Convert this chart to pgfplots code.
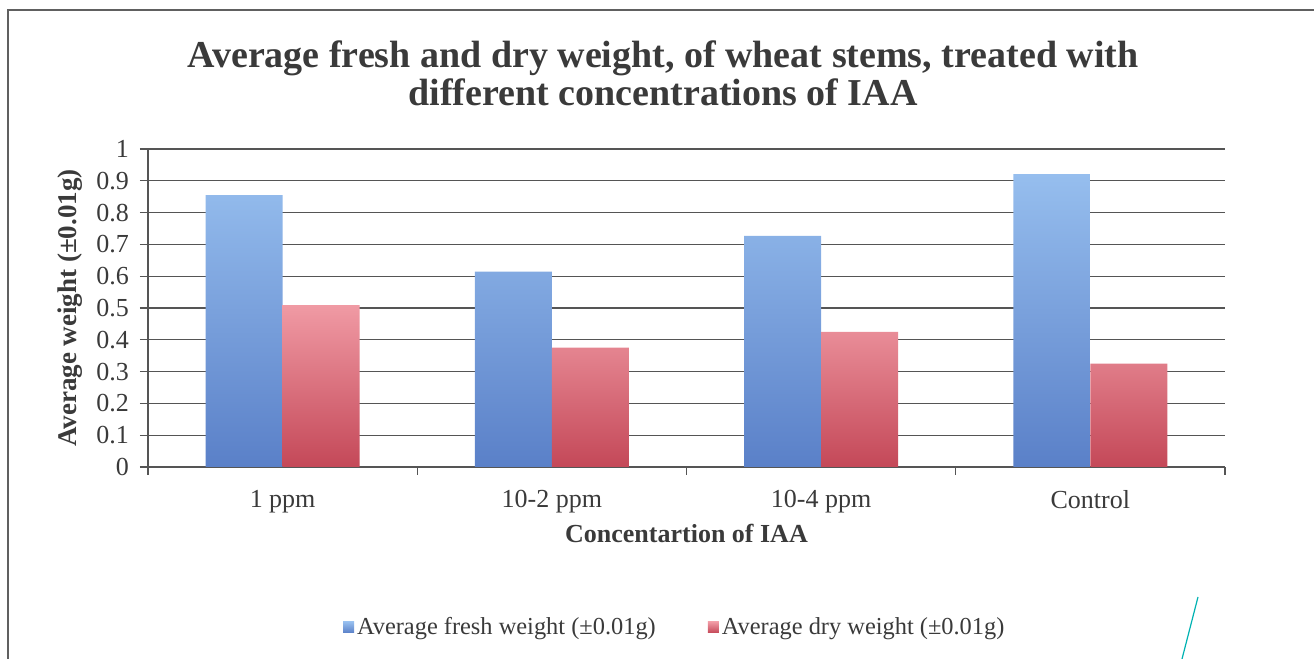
\documentclass[border=0pt]{standalone}
\usepackage{fontspec}
\setmainfont{Liberation Serif}
\usepackage{pgfplots}
\pgfplotsset{compat=1.18}
\definecolor{gridc}{HTML}{555555}
\definecolor{txt}{HTML}{3A3A3A}
\definecolor{freshtop}{HTML}{96BEEE}
\definecolor{freshbot}{HTML}{5A80C8}
\definecolor{drytop}{HTML}{F09AA4}
\definecolor{drybot}{HTML}{C44858}
\begin{document}
\begin{tikzpicture}[x=1pt,y=1pt]
\path[use as bounding box] (0,0) rectangle (657,329.5);
\draw[gray!75!black, line width=0.9pt] (4,0) -- (4,324.5) -- (657,324.5);
\draw[teal!60!cyan, line width=0.6pt] (599,31) -- (591,0);
\node[font=\bfseries\fontsize{19}{19}\selectfont, text=txt, align=center] at (331.5,293)
  {Average fresh and dry weight, of wheat stems, treated with\\different concentrations of IAA};
\begin{axis}[
  at={(74pt,96pt)}, anchor=south west,
  scale only axis, width=538.5pt, height=159pt,
  ymin=0, ymax=1,
  ytick={0,0.1,0.2,0.3,0.4,0.5,0.6,0.7,0.8,0.9,1},
  yticklabels={0,0.1,0.2,0.3,0.4,0.5,0.6,0.7,0.8,0.9,1},
  xmin=-0.5, xmax=3.5,
  xtick={0,1,2,3},
  xticklabels={1 ppm,10-2 ppm,10-4 ppm,Control},
  minor xtick={-0.5,0.5,1.5,2.5,3.5},
  major x tick style={draw=none},
  tick align=outside,
  major tick length=4pt,
  minor tick length=4pt,
  axis x line*=bottom, axis y line*=left,
  axis line style={gridc, line width=0.6pt},
  every tick/.style={gridc, line width=0.6pt},
  ymajorgrids, grid style={gridc, line width=0.6pt},
  ybar=0pt, bar width=38.5pt,
  ticklabel style={font=\fontsize{13}{15}\selectfont, text=txt},
  yticklabel style={xshift=-2pt},
  /pgf/number format/assume math mode=true,
  xticklabel style={yshift=-4pt},
  xlabel={Concentartion of IAA},
  xlabel style={font=\bfseries\fontsize{13}{15}\selectfont, text=txt, yshift=1pt},
  ylabel={Average weight (±0.01g)},
  ylabel style={font=\bfseries\fontsize{13.5}{15}\selectfont, text=txt, yshift=0pt},
  legend style={at={(0.49,-0.506)}, anchor=center, draw=none, fill=none,
    legend columns=2, font=\fontsize{12.2}{14}\selectfont, text=txt,
    /tikz/every even column/.append style={column sep=24pt},
    /tikz/every odd column/.append style={column sep=-0.5pt}},
  legend image code/.code={\fill[#1] (0pt,-2.5pt) rectangle (5.5pt,3pt);},
]
\addplot[draw=none, top color=freshtop, bottom color=freshbot] coordinates {(0,0.855) (1,0.614) (2,0.727) (3,0.921)};
\addplot[draw=none, top color=drytop, bottom color=drybot] coordinates {(0,0.509) (1,0.375) (2,0.425) (3,0.325)};
\legend{Average fresh weight (±0.01g), Average dry weight (±0.01g)}
\end{axis}
\end{tikzpicture}
\end{document}
